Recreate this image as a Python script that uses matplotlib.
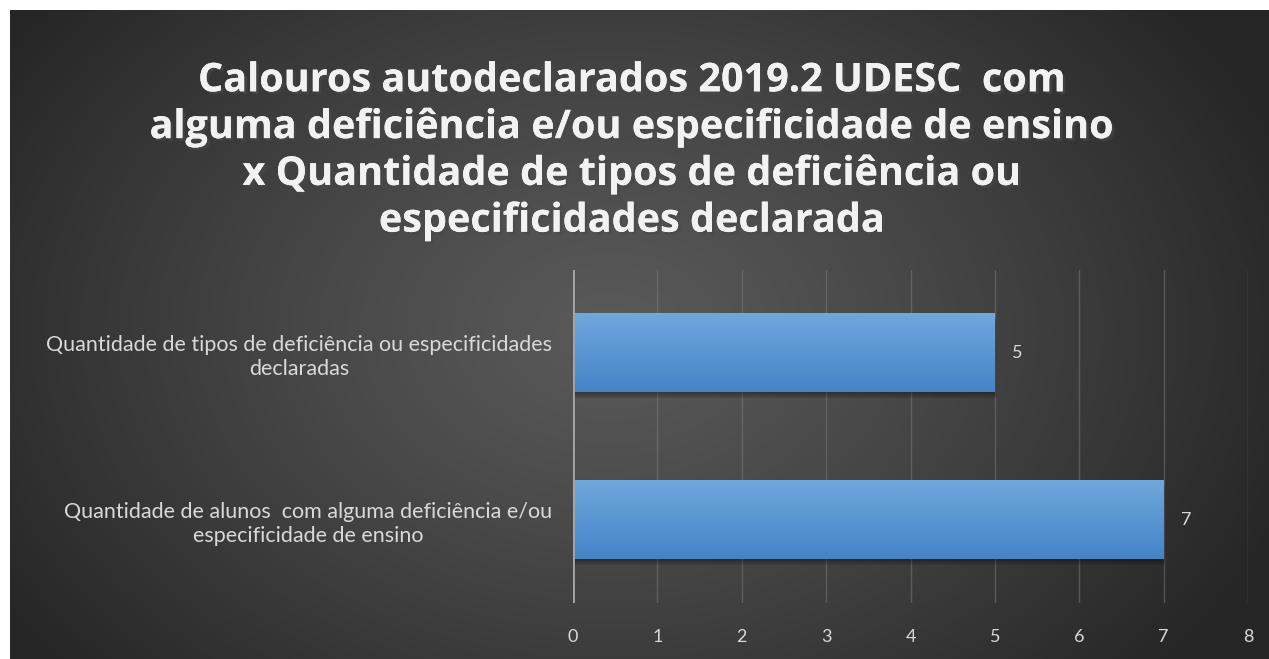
import matplotlib
matplotlib.use('Agg')
import matplotlib.pyplot as plt
import matplotlib.patheffects as pe
import numpy as np

categorias = ['Quantidade de alunos  com alguma deficiência e/ou\nespecificidade de ensino',
              'Quantidade de tipos de deficiência ou especificidades\ndeclaradas']
valores = [7, 5]
titulo = ('Calouros autodeclarados 2019.2 UDESC  com\n'
          'alguma deficiência e/ou especificidade de ensino\n'
          'x Quantidade de tipos de deficiência ou\n'
          'especificidades declarada')

W, H = 1269, 659
fig = plt.figure(figsize=(W / 100, H / 100), dpi=100)
fig.patch.set_facecolor('white')

# fundo com gradiente radial (estilo Excel)
bg = fig.add_axes([10 / W, 0, 1 - 10 / W, 1 - 10 / H])
yy, xx = np.mgrid[0:H - 10, 0:W - 10]
cx, cy = 600, 320
r = np.sqrt(((xx - cx) / 720.0) ** 2 + ((yy - cy) / 520.0) ** 2)
r = np.clip(r, 0, 1)
c = 0.35 - (0.35 - 0.15) * r ** 1.2
bg.imshow(np.dstack([c, c, c]), aspect='auto', extent=[0, 1, 0, 1], origin='upper')
bg.axis('off')

ax = fig.add_axes([573 / W, 56 / H, 675 / W, 333 / H])
ax.set_facecolor('none')
ypos = np.arange(len(categorias))
altura = 0.47

# sombra e barras com gradiente
grad = np.linspace(0, 1, 64).reshape(-1, 1)
top = np.array([0x70, 0xa7, 0xdd]) / 255
bot = np.array([0x44, 0x84, 0xc7]) / 255
img = top + (bot - top) * grad[..., None]
for y, v in zip(ypos, valores):
    for k, a in enumerate([0.12, 0.12, 0.12]):
        d = 0.012 * (k + 1)
        ax.barh(y - d, v + d * 0.6, height=altura, left=0.0, color='black',
                alpha=a, zorder=2, linewidth=0)
    ax.imshow(img, extent=[0, v, y - altura / 2, y + altura / 2], aspect='auto',
              origin='upper', zorder=3)
    ax.text(v + 0.2, y, str(v), color='#d9d9d9', fontsize=13, va='center',
            ha='left', family='Lato')

ax.set_xlim(0, 8)
ax.set_ylim(-0.5, 1.5)
ax.set_xticks(range(0, 9))
ax.set_yticks(ypos)
ax.set_yticklabels(categorias, fontsize=15.5, color='#d9d9d9', family='Lato',
                   ha='right', multialignment='center', linespacing=1.25)
ax.tick_params(axis='x', colors='#d9d9d9', labelsize=13, length=0, pad=19)
ax.tick_params(axis='y', length=0, pad=15)
for lbl in ax.get_xticklabels():
    lbl.set_family('Lato')
ax.grid(axis='x', color='#777777', linewidth=1, alpha=0.55)
ax.set_axisbelow(True)
for s in ax.spines.values():
    s.set_visible(False)
ax.axvline(0, color='#a6a6a6', linewidth=2, zorder=4)

fig.text(632 / W, 1 - 151 / H, titulo, ha='center', va='center', color='#f2f2f2',
         fontsize=28.5, fontweight='bold', family='Open Sans', linespacing=1.26,
         path_effects=[pe.withSimplePatchShadow(offset=(2, -2), alpha=0.6),
                       pe.Normal()])

fig.savefig('out.png', dpi=100)
